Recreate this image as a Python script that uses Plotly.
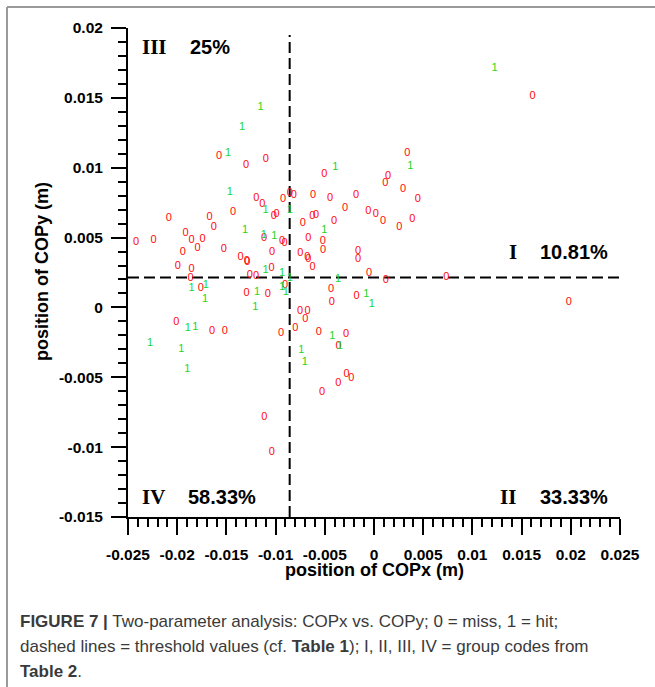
import plotly.graph_objects as go

# ---- data (m) ----
miss_x = [-0.01575, -0.0130, -0.0110, -0.00504, 0.01612, 0.00339, 0.00142, 0.00114, 0.00295,
          -0.01195, -0.01134, -0.00925, -0.00856, -0.00816, -0.00620, -0.00447, -0.00183, -0.00295,
          -0.00059, 0.00019, 0.00093, 0.00256, 0.00390, 0.00444, -0.01433, -0.02086, -0.01672,
          -0.01629, -0.01019, -0.00989, -0.00626, -0.00589, -0.00724, -0.00407, -0.01916, -0.01855,
          -0.01743, -0.02418, -0.02241, -0.01118, -0.00935, -0.00910, -0.00667, -0.00519, -0.00518,
          -0.01944, -0.01794, -0.01527, -0.01036, -0.00748, -0.00677, -0.00667, -0.01357, -0.01293,
          -0.01288, -0.00163, -0.00163, -0.01994, -0.01855, -0.00625, -0.01042, -0.01263, -0.01199,
          -0.01865, -0.00049, 0.00121, 0.00734, 0.01981, -0.01761, -0.01296, -0.01080, -0.00904,
          -0.00437, -0.00430, -0.00176, -0.00752, -0.00674, -0.00697, -0.02008, -0.01646, -0.01517,
          -0.00799, -0.00945, -0.00562, -0.00284, -0.00359, -0.00280, -0.00230, -0.00362, -0.00528,
          -0.01114, -0.01039]
miss_y = [0.01080, 0.01016, 0.01059, 0.00954, 0.01508, 0.01107, 0.00937, 0.00892, 0.00847,
          0.00783, 0.00740, 0.00771, 0.00816, 0.00803, 0.00803, 0.00783, 0.00804, 0.00713,
          0.00690, 0.00667, 0.00620, 0.00577, 0.00629, 0.00771, 0.00680, 0.00635, 0.00644,
          0.00577, 0.00656, 0.00665, 0.00651, 0.00658, 0.00602, 0.00620, 0.00532, 0.00484,
          0.00487, 0.00463, 0.00479, 0.00497, 0.00475, 0.00461, 0.00494, 0.00472, 0.00409,
          0.00396, 0.00422, 0.00413, 0.00394, 0.00388, 0.00356, 0.00348, 0.00356, 0.00332,
          0.00320, 0.00399, 0.00343, 0.00293, 0.00275, 0.00289, 0.00279, 0.00232, 0.00222,
          0.00207, 0.00247, 0.00196, 0.00218, 0.00036, 0.00139, 0.00100, 0.00096, 0.00157,
          0.00127, 0.00037, 0.00080, -0.00027, -0.00027, -0.00088, -0.00104, -0.00174, -0.00172,
          -0.00147, -0.00188, -0.00176, -0.00193, -0.00279, -0.00477, -0.00508, -0.00544, -0.00608,
          -0.00787, -0.01037]

hit_x = [-0.01154, -0.01341, -0.01483, -0.00392, 0.01226, 0.00370, -0.01466, -0.01103, -0.00856,
         -0.00504, -0.01311, -0.01121, -0.01012, -0.01103, -0.00935, -0.00856, -0.00364, -0.01855,
         -0.01710, -0.01717, -0.01189, -0.00935, -0.00897, -0.00077, -0.00023, -0.01205, -0.01893,
         -0.01815, -0.00423, -0.02276, -0.01957, -0.00348, -0.00738, -0.01896, -0.00704]
hit_y = [0.01436, 0.01288, 0.01102, 0.01002, 0.01710, 0.01014, 0.00823, 0.00699, 0.00697,
         0.00554, 0.00549, 0.00520, 0.00513, 0.00263, 0.00248, 0.00210, 0.00200, 0.00136,
         0.00157, 0.00057, 0.00107, 0.00143, 0.00107, 0.00094, 0.00024, -0.00002, -0.00147,
         -0.00140, -0.00207, -0.00256, -0.00301, -0.00281, -0.00303, -0.00439, -0.00394]

thr_x = -0.00857
thr_y = 0.00215

x_ticks = [-0.025, -0.02, -0.015, -0.01, -0.005, 0, 0.005, 0.01, 0.015, 0.02, 0.025]
x_labels = ["-0.025", "-0.02", "-0.015", "-0.01", "-0.005", "0", "0.005", "0.01", "0.015", "0.02", "0.025"]
y_ticks = [-0.015, -0.01, -0.005, 0, 0.005, 0.01, 0.015, 0.02]
y_labels = ["-0.015", "-0.01", "-0.005", "0", "0.005", "0.01", "0.015", "0.02"]

quad_codes = ["III", "I", "IV", "II"]
quad_pcts = ["25%", "10.81%", "58.33%", "33.33%"]

W, H = 655, 687
L, R, T, B = 128, 620, 28, 517


def px(xp, yp):
    return (xp - L) / (R - L), (B - yp) / (B - T)


fig = go.Figure()
fig.add_trace(go.Scatter(x=miss_x, y=miss_y, mode="text", text=["0"] * len(miss_x),
                         textfont=dict(family="Liberation Sans", size=11, color="#ff0a0a"),
                         cliponaxis=False, showlegend=False))
fig.add_trace(go.Scatter(x=hit_x, y=hit_y, mode="text", text=["1"] * len(hit_x),
                         textfont=dict(family="Liberation Sans", size=11, color="#22d622"),
                         cliponaxis=False, showlegend=False))

dash = dict(color="black", width=2, dash="11px,5px")
fig.add_shape(type="line", x0=thr_x, x1=thr_x, y0=-0.015, y1=0.0195, line=dash, layer="below")
fig.add_shape(type="line", x0=-0.025, x1=0.025, y0=thr_y, y1=thr_y, line=dash, layer="below")

# figure frame
fig.add_shape(type="line", xref="paper", yref="paper", x0=px(7, 0)[0], x1=px(7, 0)[0],
              y0=px(0, 7)[1], y1=px(0, H + 5)[1], line=dict(color="#9a9a9a", width=2))
fig.add_shape(type="line", xref="paper", yref="paper", x0=px(7, 0)[0], x1=px(W + 5, 0)[0],
              y0=px(0, 7)[1], y1=px(0, 7)[1], line=dict(color="#9a9a9a", width=2))

serif = dict(family="Liberation Serif", size=21, color="black", weight="bold")
sans = dict(family="Liberation Sans", size=20, color="black", weight="bold")
code_pos = [(154, 47), (513, 252), (153, 497), (508, 497)]
pct_pos = [(210, 47), (574, 252), (222, 497), (574, 497)]
for c, p, (cx, cy), (qx, qy) in zip(quad_codes, quad_pcts, code_pos, pct_pos):
    a, b = px(cx, cy)
    fig.add_annotation(x=a, y=b, xref="paper", yref="paper", text=c, showarrow=False,
                       font=serif, xanchor="center", yanchor="middle")
    a, b = px(qx, qy)
    fig.add_annotation(x=a, y=b, xref="paper", yref="paper", text=p, showarrow=False,
                       font=sans, xanchor="center", yanchor="middle")

title_font = dict(family="Liberation Sans", size=18, color="black", weight="bold")
a, b = px(374, 570)
fig.add_annotation(x=a, y=b, xref="paper", yref="paper", text="position of COPx (m)",
                   showarrow=False, font=title_font, xanchor="center", yanchor="middle")
a, b = px(42, 272)
fig.add_annotation(x=a, y=b, xref="paper", yref="paper", text="position of COPy (m)",
                   showarrow=False, font=title_font, textangle=-90, xanchor="center", yanchor="middle")

cap_font = dict(family="Liberation Sans", size=17, color="#3a3a3a")
caption = [
    "<b>FIGURE 7 |</b> Two-parameter analysis: COPx vs. COPy; 0 = miss, 1 = hit;",
    "dashed lines = threshold values (cf. <b>Table 1</b>); I, II, III, IV = group codes from",
    "<b>Table 2</b>.",
]
for i, line in enumerate(caption):
    a, b = px(18, 621 + 25 * i)
    fig.add_annotation(x=a, y=b, xref="paper", yref="paper", text=line, showarrow=False,
                       font=cap_font, xanchor="left", yanchor="middle", align="left")

tick_font = dict(family="Liberation Sans", size=15.5, color="black", weight="bold")
fig.update_xaxes(range=[-0.025, 0.025], tickmode="array", tickvals=x_ticks, ticktext=x_labels,
                 ticks="outside", ticklen=16, tickwidth=1.5, tickcolor="black",
                 showline=True, linecolor="black", linewidth=2, showgrid=False, zeroline=False,
                 tickfont=tick_font, ticklabelstandoff=6,
                 minor=dict(tickmode="linear", tick0=0, dtick=0.001, ticks="outside", ticklen=8,
                            tickwidth=1.5, tickcolor="black", showgrid=False))
fig.update_yaxes(range=[-0.015, 0.02], tickmode="array", tickvals=y_ticks, ticktext=y_labels,
                 ticks="outside", ticklen=15, tickwidth=1.5, tickcolor="black",
                 showline=True, linecolor="black", linewidth=2, showgrid=False, zeroline=False,
                 tickfont=tick_font, ticklabelstandoff=5,
                 minor=dict(tickmode="linear", tick0=0, dtick=0.001, ticks="outside", ticklen=8,
                            tickwidth=1.5, tickcolor="black", showgrid=False))

fig.update_layout(width=W, height=H, margin=dict(l=L, r=W - R, t=T, b=H - B, pad=0),
                  plot_bgcolor="white", paper_bgcolor="white", showlegend=False)

fig.write_html("out.html")
